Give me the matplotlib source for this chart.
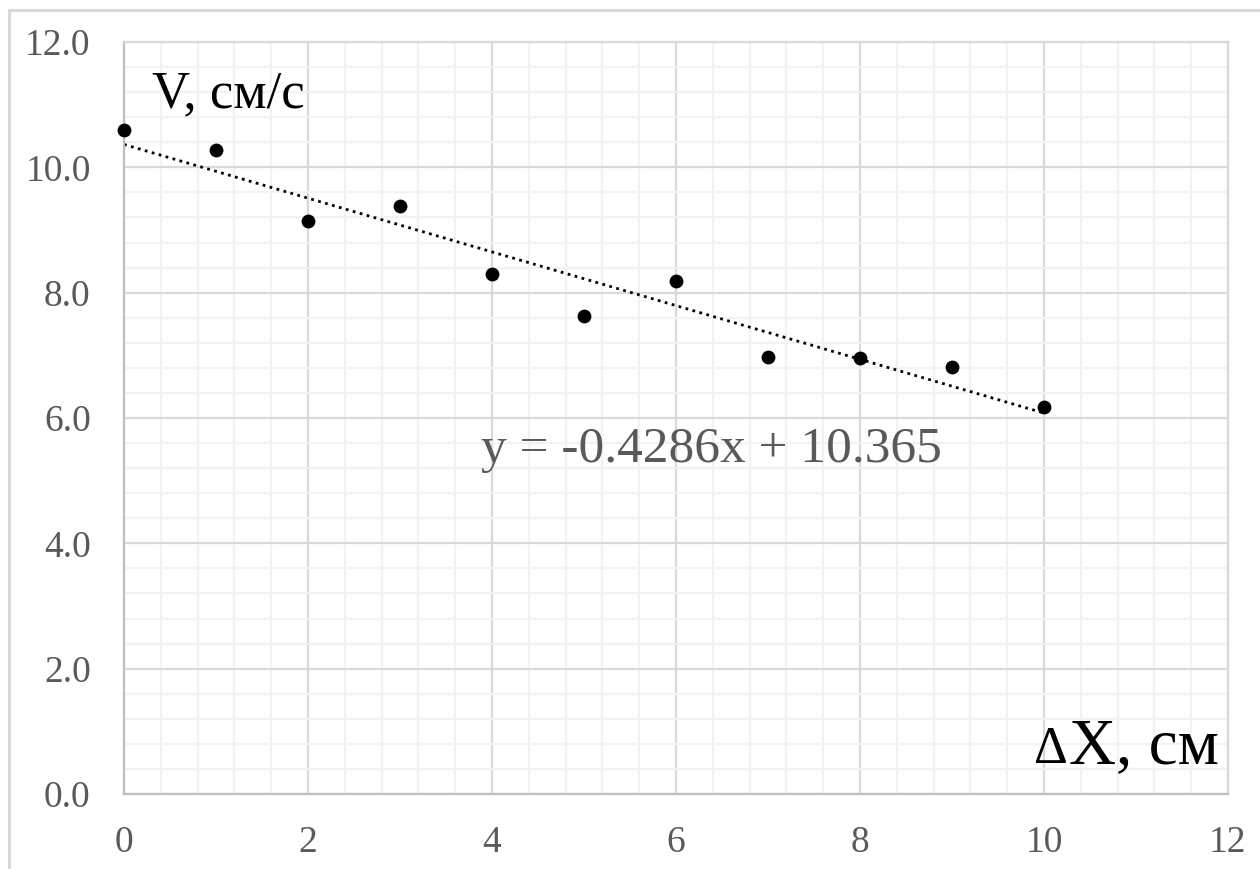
import matplotlib
matplotlib.use('Agg')
import matplotlib.pyplot as plt
from matplotlib.patches import Rectangle
from matplotlib.ticker import MultipleLocator, FormatStrFormatter

# measured values
dx = [0, 1, 2, 3, 4, 5, 6, 7, 8, 9, 10]
v = [10.60, 10.27, 9.14, 9.38, 8.30, 7.63, 8.18, 6.98, 6.96, 6.82, 6.18]
slope = -0.4286
intercept = 10.365
fit_x = [0, 10]

plt.rcParams['font.family'] = ['Liberation Serif', 'DejaVu Serif']

fig = plt.figure(figsize=(12.6, 8.69), dpi=100)
W, H = 1260, 869
ax = fig.add_axes([124 / W, 1 - 794 / H, (1228 - 124) / W, (794 - 42) / H])

# outer chart-area border
fig.patches.append(Rectangle((9 / W, -0.1), 1.2, 1 - 10 / H + 0.1,
                             transform=fig.transFigure, fill=False,
                             edgecolor='#d9d9d9', linewidth=2.2, clip_on=False))

ax.set_xlim(0, 12)
ax.set_ylim(0, 12)
ax.xaxis.set_major_locator(MultipleLocator(2))
ax.xaxis.set_minor_locator(MultipleLocator(0.4))
ax.yaxis.set_major_locator(MultipleLocator(2))
ax.yaxis.set_minor_locator(MultipleLocator(0.4))
ax.yaxis.set_major_formatter(FormatStrFormatter('%.1f'))

ax.grid(which='minor', color='#f2f2f2', linewidth=1.6)
ax.grid(which='major', color='#d9d9d9', linewidth=1.6)
ax.set_axisbelow(True)
ax.tick_params(which='both', length=0)
ax.tick_params(axis='x', labelsize=27, labelcolor='#595959', pad=23)
ax.tick_params(axis='y', labelsize=27, labelcolor='#595959', pad=24)

for s in ['top', 'right']:
    ax.spines[s].set_color('#d9d9d9')
    ax.spines[s].set_linewidth(1.6)
for s in ['left', 'bottom']:
    ax.spines[s].set_color('#bfbfbf')
    ax.spines[s].set_linewidth(1.6)

ax.plot(fit_x, [slope * x + intercept for x in fit_x], color='black',
        linestyle=(0, (1, 1.6)), linewidth=2)
ax.scatter(dx, v, s=80, color='black', zorder=3, clip_on=False)

ax.text(0.30, 10.95, 'V, см/с', fontsize=38, color='black', va='baseline')
xl = ax.text(11.9, 0.49, 'X, см', fontsize=47, color='black', ha='right', va='baseline')
ax.text(3.88, 5.3, 'y = -0.4286x + 10.365', fontsize=37, color='#595959', va='baseline')

# smaller delta in front of the x label
fig.canvas.draw()
bb = xl.get_window_extent()
left = ax.transData.inverted().transform((bb.x0, 0))[0]
ax.text(left - 0.01, 0.49, '\u0394', fontsize=38, color='black', ha='right', va='baseline')

fig.savefig('out.png', dpi=100)
